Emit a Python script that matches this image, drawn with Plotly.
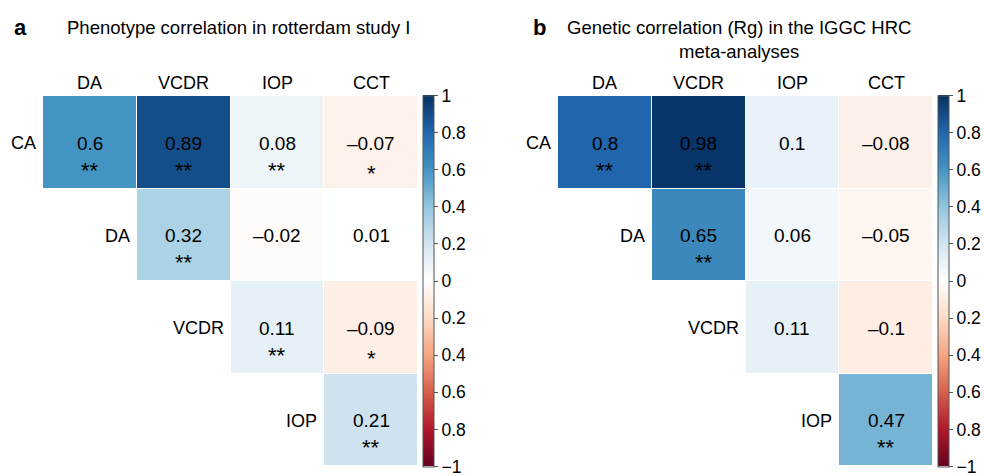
import plotly.graph_objects as go

col_labels = ["DA", "VCDR", "IOP", "CCT"]
row_labels = ["CA", "DA", "VCDR", "IOP"]

pheno_vals = [[0.6, 0.89, 0.08, -0.07],
              [None, 0.32, -0.02, 0.01],
              [None, None, 0.11, -0.09],
              [None, None, None, 0.21]]
pheno_sig = [["**", "**", "**", "*"],
             ["", "**", "", ""],
             ["", "", "**", "*"],
             ["", "", "", "**"]]

gen_vals = [[0.8, 0.98, 0.1, -0.08],
            [None, 0.65, 0.06, -0.05],
            [None, None, 0.11, -0.1],
            [None, None, None, 0.47]]
gen_sig = [["**", "**", "", ""],
           ["", "**", "", ""],
           ["", "", "", ""],
           ["", "", "", "**"]]

cb_tickvals = [-1, -0.8, -0.6, -0.4, -0.2, 0, 0.2, 0.4, 0.6, 0.8, 1]
cb_ticktext = ["\u22121", "0.8", "0.6", "0.4", "0.2", "0", "0.2", "0.4", "0.6", "0.8", "1"]

title_a = "Phenotype correlation in rotterdam study I"
title_b = "Genetic correlation (Rg) in the IGGC HRC<br>meta-analyses"

W, H = 984, 476
FONT = "Liberation Sans, Arial, Helvetica, sans-serif"

colors = ["#67001F", "#B2182B", "#D6604D", "#F4A582", "#FDDBC7", "#FFFFFF",
          "#D1E5F0", "#92C5DE", "#4393C3", "#2166AC", "#053061"]
cscale = [[i / (len(colors) - 1), c] for i, c in enumerate(colors)]

def px_x(p):
    return p / W

def px_y(p):
    return 1 - p / H

grid_top, grid_bot = 96, 466
panels = [
    dict(vals=pheno_vals, sig=pheno_sig, x0=43, x1=418, cbx=423, xa="x", ya="y", ca="coloraxis"),
    dict(vals=gen_vals, sig=gen_sig, x0=558, x1=933, cbx=938, xa="x2", ya="y2", ca="coloraxis2"),
]

fig = go.Figure()
annotations = []

def fmt(v):
    s = ("%g" % v)
    return s.replace("-", "\u2013")

for i, p in enumerate(panels):
    fig.add_trace(go.Heatmap(
        z=p["vals"], x=list(range(4)), y=list(range(4)),
        coloraxis=p["ca"], xaxis=p["xa"], yaxis=p["ya"],
        xgap=1, ygap=1, hoverinfo="skip",
    ))
    for r in range(4):
        for c in range(4):
            v = p["vals"][r][c]
            if v is None:
                continue
            annotations.append(dict(x=c, y=r, xref=p["xa"], yref=p["ya"], text=fmt(v),
                                    showarrow=False, font=dict(size=19, color="black", family=FONT),
                                    yshift=-1))
            s = p["sig"][r][c]
            if s:
                xs = 0
                if i == 1 and r < 2 and c == 1:
                    xs = 5
                annotations.append(dict(x=c, y=r, xref=p["xa"], yref=p["ya"], text=s,
                                        showarrow=False, font=dict(size=22, color="black", family=FONT),
                                        yshift=-28 if s == "**" else -31, xshift=xs))
    # column labels
    for c, lab in enumerate(col_labels):
        annotations.append(dict(x=c, y=-0.5, xref=p["xa"], yref=p["ya"], text=lab,
                                showarrow=False, yanchor="bottom", yshift=1,
                                font=dict(size=18, color="black", family=FONT)))
    # row labels
    for r, lab in enumerate(row_labels):
        annotations.append(dict(x=r - 0.5, y=r, xref=p["xa"], yref=p["ya"], text=lab,
                                showarrow=False, xanchor="right", xshift=-5, yshift=-1,
                                font=dict(size=18, color="black", family=FONT)))
    axis_common = dict(visible=False, showgrid=False, zeroline=False, fixedrange=True)
    fig.layout["xaxis" + ("" if i == 0 else "2")] = dict(
        axis_common, domain=[px_x(p["x0"]), px_x(p["x1"])], range=[-0.5, 3.5],
        anchor=p["ya"])
    fig.layout["yaxis" + ("" if i == 0 else "2")] = dict(
        axis_common, domain=[px_y(grid_bot), px_y(grid_top)], range=[3.5, -0.5],
        anchor=p["xa"])
    fig.layout[p["ca"]] = dict(
        cmin=-1, cmax=1, colorscale=cscale,
        colorbar=dict(
            x=px_x(p["cbx"]), xanchor="left", xpad=0, ypad=0,
            y=px_y((grid_top + grid_bot) / 2), yanchor="middle",
            len=grid_bot - grid_top + 1, lenmode="pixels",
            thickness=11, thicknessmode="pixels",
            outlinewidth=1, outlinecolor="#555",
            tickvals=cb_tickvals, ticktext=cb_ticktext,
            ticks="outside", ticklen=4, tickcolor="#555", tickwidth=1,
            ticklabeloverflow="allow",
            tickfont=dict(size=17.5, color="black", family=FONT),
        ))

annotations += [
    dict(x=px_x(12), y=px_y(27), xref="paper", yref="paper", text="<b>a</b>", showarrow=False,
         xanchor="left", yanchor="middle", font=dict(size=22, color="black", family=FONT)),
    dict(x=px_x(65), y=px_y(27), xref="paper", yref="paper", text=title_a, showarrow=False,
         xanchor="left", yanchor="middle", font=dict(size=18.5, color="black", family=FONT)),
    dict(x=px_x(531), y=px_y(27), xref="paper", yref="paper", text="<b>b</b>", showarrow=False,
         xanchor="left", yanchor="middle", font=dict(size=22, color="black", family=FONT)),
    dict(x=px_x(739), y=px_y(15), xref="paper", yref="paper", text=title_b, showarrow=False,
         xanchor="center", yanchor="top", align="center",
         font=dict(size=18.5, color="black", family=FONT)),
]

fig.update_layout(
    width=W, height=H, margin=dict(l=0, r=0, t=0, b=0),
    paper_bgcolor="white", plot_bgcolor="white",
    annotations=annotations, showlegend=False,
    font=dict(family=FONT),
)

fig.write_html("out.html", config={"displayModeBar": False},
               post_script="document.body.style.margin='0';document.body.style.padding='0';"
                           "document.body.style.overflow='hidden';")
